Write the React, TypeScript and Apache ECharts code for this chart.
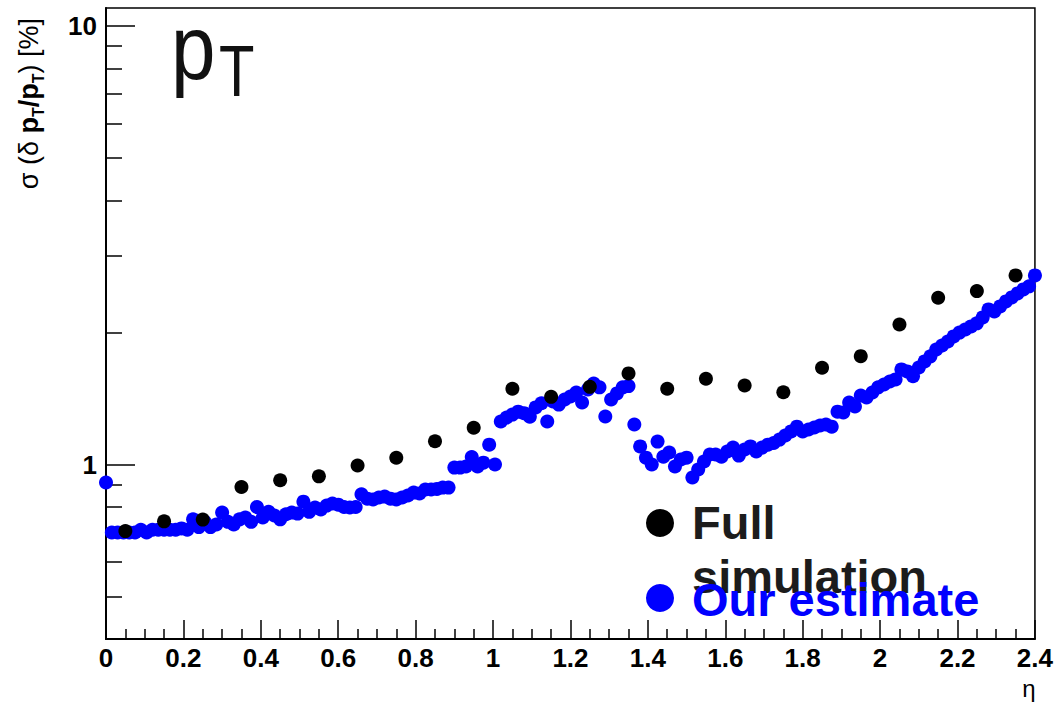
import React, { useEffect, useRef } from 'react';
import * as echarts from 'echarts';

// Resolution of the parametrised estimate, sampled every ETA_STEP in η (0 … 2.4)
const ETA_STEP = 0.015;
const ourEstimate = [
  0.91, 0.70, 0.70, 0.70, 0.70, 0.70, 0.71, 0.70, 0.71, 0.71,
  0.71, 0.71, 0.71, 0.715, 0.71, 0.75, 0.72, 0.74, 0.72, 0.73,
  0.777, 0.74, 0.73, 0.75, 0.757, 0.74, 0.80, 0.757, 0.78, 0.765,
  0.75, 0.77, 0.777, 0.773, 0.823, 0.78, 0.798, 0.79, 0.806, 0.815,
  0.81, 0.80, 0.798, 0.80, 0.855, 0.836, 0.832, 0.841, 0.845, 0.836,
  0.832, 0.841, 0.85, 0.863, 0.859, 0.877, 0.877, 0.88, 0.886, 0.886,
  0.984, 0.984, 0.99, 1.04, 0.99, 1.01, 1.11, 1.0, 1.254, 1.28,
  1.30, 1.32, 1.31, 1.285, 1.35, 1.38, 1.254, 1.393, 1.37, 1.407,
  1.43, 1.46, 1.385, 1.484, 1.531, 1.50, 1.287, 1.407, 1.453, 1.50,
  1.51, 1.234, 1.10, 1.037, 1.0, 1.128, 1.042, 1.065, 0.99, 1.027,
  1.037, 0.934, 0.974, 1.016, 1.054, 1.054, 1.042, 1.071, 1.093, 1.048,
  1.082, 1.10, 1.071, 1.093, 1.11, 1.12, 1.14, 1.165, 1.19, 1.22,
  1.19, 1.202, 1.215, 1.228, 1.234, 1.22, 1.32, 1.314, 1.385, 1.357,
  1.437, 1.422, 1.46, 1.50, 1.523, 1.547, 1.564, 1.648, 1.631, 1.59,
  1.665, 1.719, 1.765, 1.83, 1.869, 1.909, 1.96, 2.0, 2.033, 2.066,
  2.099, 2.166, 2.259, 2.235, 2.295, 2.356, 2.406, 2.457, 2.509, 2.55,
  2.70,
];

// Full detector simulation, one point per 0.1 bin in η
const fullSimEta = [
  0.05, 0.15, 0.25, 0.35, 0.45, 0.55, 0.65, 0.75, 0.85, 0.95, 1.05, 1.15,
  1.25, 1.35, 1.45, 1.55, 1.65, 1.75, 1.85, 1.95, 2.05, 2.15, 2.25, 2.35,
];
const fullSimRes = [
  0.705, 0.742, 0.749, 0.889, 0.921, 0.94, 0.995, 1.036, 1.13, 1.213, 1.489, 1.427,
  1.504, 1.614, 1.489, 1.569, 1.515, 1.462, 1.663, 1.767, 2.087, 2.402, 2.487, 2.70,
];

const yMajorTicks = [1, 10];
const yMinorTicks = [0.5, 0.6, 0.7, 0.8, 0.9, 2, 3, 4, 5, 6, 7, 8, 9];
const legendFull = ['Full', 'simulation'];
const legendOurs = 'Our estimate';

const FONT = '"Liberation Sans", Arial, Helvetica, sans-serif';
const BLUE = '#0000ff';

export default function App() {
  const ref = useRef<HTMLDivElement>(null);

  useEffect(() => {
    document.body.style.margin = '0';
    const chart = echarts.init(ref.current!, null, { renderer: 'svg' });

    const tickLine = { color: '#000', width: 1.5 };
    const axisLabel = {
      fontSize: 26,
      fontWeight: 'bold' as const,
      fontFamily: FONT,
      color: '#000',
    };

    chart.setOption({
      animation: false,
      backgroundColor: '#fff',
      grid: {
        left: 106,
        right: 18,
        top: 8,
        bottom: 64,
        show: true,
        borderColor: '#000',
        borderWidth: 1.5,
      },
      xAxis: {
        type: 'value',
        min: 0,
        max: 2.4,
        interval: 0.2,
        axisLine: { show: true, onZero: false, lineStyle: { color: '#000', width: 2 } },
        axisTick: { show: true, inside: true, length: 19, lineStyle: tickLine },
        minorTick: { show: true, splitNumber: 4, length: 10, lineStyle: tickLine },
        splitLine: { show: false },
        minorSplitLine: { show: false },
        axisLabel: { ...axisLabel, margin: 6, showMinLabel: true, showMaxLabel: true },
      },
      yAxis: [
        {
          type: 'log',
          logBase: 10,
          min: 0.4,
          max: 11,
          position: 'left',
          axisLine: { show: true, lineStyle: { color: '#000', width: 2 } },
          axisTick: { show: true, inside: true, length: 29, customValues: yMajorTicks, lineStyle: tickLine },
          axisLabel: { ...axisLabel, margin: 9, customValues: yMajorTicks },
          splitLine: { show: false },
          minorTick: { show: false },
        },
        {
          type: 'log',
          logBase: 10,
          min: 0.4,
          max: 11,
          position: 'left',
          axisLine: { show: false },
          axisTick: { show: true, inside: true, length: 16, customValues: yMinorTicks, lineStyle: tickLine },
          axisLabel: { show: false },
          splitLine: { show: false },
          minorTick: { show: false },
        },
      ],
      series: [
        {
          name: legendOurs,
          type: 'scatter',
          yAxisIndex: 0,
          clip: false,
          symbol: 'circle',
          symbolSize: 14,
          itemStyle: { color: BLUE, opacity: 1 },
          data: ourEstimate.map((v, i) => [Number((i * ETA_STEP).toFixed(3)), v]),
        },
        {
          name: legendFull.join(' '),
          type: 'scatter',
          yAxisIndex: 0,
          clip: false,
          symbol: 'circle',
          symbolSize: 14,
          itemStyle: { color: '#000', opacity: 1 },
          data: fullSimEta.map((x, i) => [x, fullSimRes[i]]),
        },
      ],
      graphic: [
        // big p_T label
        {
          type: 'text',
          x: 171,
          y: 47.5,
          scaleY: 1.13,
          style: { text: 'p', font: `80px ${FONT}`, fill: '#111', align: 'left', verticalAlign: 'middle' },
        },
        {
          type: 'text',
          x: 219,
          y: 71,
          scaleY: 1.25,
          style: { text: 'T', font: `58px ${FONT}`, fill: '#111', align: 'left', verticalAlign: 'middle' },
        },
        // y-axis title, reading upwards
        {
          type: 'text',
          x: 29,
          y: 18,
          rotation: Math.PI / 2,
          style: {
            text: 'σ (δ {b|p}{s|T}{b|/p}{s|T}) [%]',
            font: `27px ${FONT}`,
            fill: '#000',
            align: 'right',
            verticalAlign: 'middle',
            lineHeight: 34,
            rich: {
              b: { fontSize: 27, fontWeight: 'bold', fontFamily: FONT, lineHeight: 34, verticalAlign: 'middle' },
              s: { fontSize: 16, fontWeight: 'bold', fontFamily: FONT, lineHeight: 16, verticalAlign: 'bottom' },
            },
          },
        },
        // x-axis title
        {
          type: 'text',
          x: 1029,
          y: 688,
          style: { text: 'η', font: `24px ${FONT}`, fill: '#000', align: 'center', verticalAlign: 'middle' },
        },
        // legend
        { type: 'circle', shape: { cx: 660, cy: 523, r: 14 }, style: { fill: '#000' } },
        { type: 'circle', shape: { cx: 660, cy: 598, r: 14 }, style: { fill: BLUE } },
        {
          type: 'text',
          x: 692,
          y: 522,
          style: { text: legendFull[0], font: `bold 47px ${FONT}`, fill: '#1c1c1c', align: 'left', verticalAlign: 'middle' },
        },
        {
          type: 'text',
          x: 692,
          y: 576,
          style: { text: legendFull[1], font: `bold 47px ${FONT}`, fill: '#1c1c1c', align: 'left', verticalAlign: 'middle' },
        },
        {
          type: 'text',
          x: 692,
          y: 599,
          style: { text: legendOurs, font: `bold 47px ${FONT}`, fill: BLUE, align: 'left', verticalAlign: 'middle' },
        },
      ],
    });

    return () => chart.dispose();
  }, []);

  return <div ref={ref} style={{ width: 1056, height: 703 }} />;
}
